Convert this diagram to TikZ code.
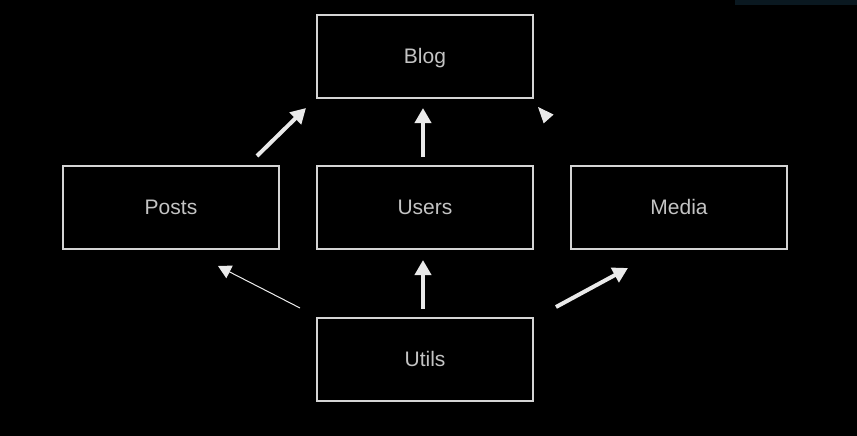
\documentclass[tikz,border=0pt]{standalone}
\usepackage{fontspec}
\setmainfont{Liberation Sans}
\usetikzlibrary{arrows.meta}
\definecolor{boxline}{HTML}{D4D4D4}
\definecolor{txt}{HTML}{C4C4C4}
\definecolor{arr}{HTML}{EAEAEA}
\definecolor{bar}{HTML}{0A1820}
\begin{document}
\begin{tikzpicture}[x=1pt,y=-1pt,
  box/.style={draw=boxline,line width=2pt,minimum width=216pt,minimum height=83pt,inner sep=0pt,text height=14pt,text depth=0pt,text=txt,font=\fontsize{21}{24}\selectfont},
  bigarrow/.style={draw=arr,line width=4pt,-{Triangle[length=15pt,width=16pt,fill=arr]}},
  thinarrow/.style={draw=arr!80,line width=1pt,-{Triangle[length=13pt,width=14pt,color=arr,fill=arr]}},
  hiddenarrow/.style={draw=black,line width=1pt,-{Triangle[length=16pt,width=13pt,color=arr,fill=arr]}}]
\fill[black] (0,0) rectangle (857,436);
\useasboundingbox (0,0) rectangle (857,436);
\fill[bar] (735,0) rectangle (857,5);
\node[box] (blog)  at (425,56.5)  {Blog};
\node[box] (posts) at (171,207.5) {Posts};
\node[box] (users) at (425,207.5) {Users};
\node[box] (media) at (679,207.5) {Media};
\node[box] (utils) at (425,359.5) {Utils};
\draw[bigarrow] ([xshift=-23pt,yshift=9pt]posts.north east) -- ([xshift=-10pt,yshift=-9pt]blog.south west);
\draw[bigarrow] ([xshift=-2pt,yshift=8pt]users.north) -- ([xshift=-2pt,yshift=-9pt]blog.south);
\draw[hiddenarrow] ([xshift=8pt,yshift=13pt]media.north west) -- ([xshift=4pt,yshift=-8pt]blog.south east);
\draw[thinarrow] ([xshift=-16pt,yshift=9pt]utils.north west) -- ([xshift=-62pt,yshift=-16pt]posts.south east);
\draw[bigarrow] ([xshift=-2pt,yshift=8pt]utils.north) -- ([xshift=-2pt,yshift=-10pt]users.south);
\draw[bigarrow] ([xshift=22pt,yshift=10pt]utils.north east) -- ([xshift=58pt,yshift=-18pt]media.south west);
\end{tikzpicture}
\end{document}
